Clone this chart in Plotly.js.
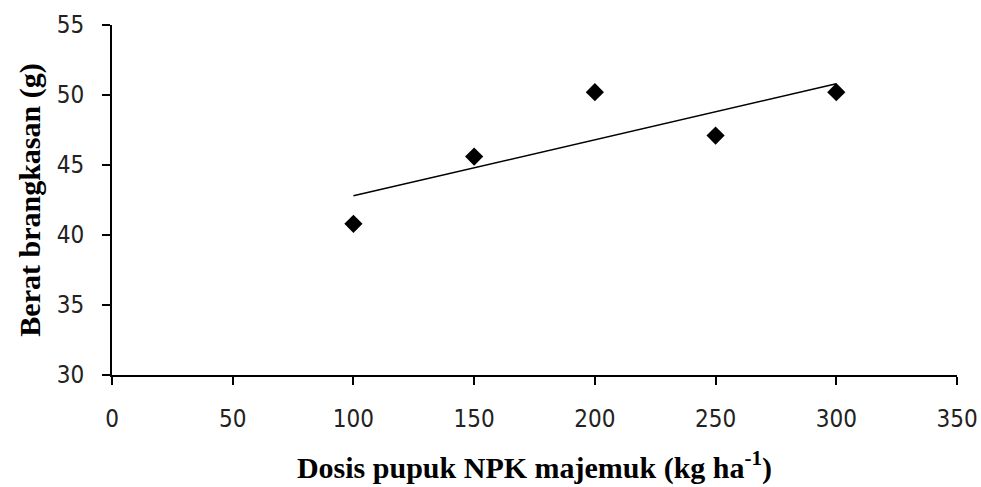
<!DOCTYPE html>
<html>
<head>
<meta charset="utf-8">
<script src="https://cdn.plot.ly/plotly-3.0.1.min.js"></script>
<style>html,body{margin:0;padding:0;background:#fff;}#chart{width:981px;height:487px;}</style>
</head>
<body>
<div id="chart"></div>
<script>
// Data
const dosis = [100, 150, 200, 250, 300];
const berat = [40.8, 45.6, 50.2, 47.1, 50.2];
// Linear trend line endpoints
const trendX = [100, 300];
const trendY = [42.8, 50.8];
const xTicks = [0, 50, 100, 150, 200, 250, 300, 350];
const yTicks = [30, 35, 40, 45, 50, 55];

const tickFont = {family: '"DejaVu Sans Condensed", "DejaVu Sans", sans-serif', size: 24, color: '#222'};
const titleFont = {family: '"Liberation Serif", serif', size: 30, color: '#000', weight: 'bold'};

const traces = [
  {x: trendX, y: trendY, mode: 'lines', type: 'scatter',
   line: {color: '#000', width: 1.5}, hoverinfo: 'skip', showlegend: false},
  {x: dosis, y: berat, mode: 'markers', type: 'scatter',
   marker: {symbol: 'diamond', size: 14, color: '#000'}, showlegend: false}
];

const layout = {
  width: 981, height: 487,
  margin: {l: 112, r: 24, t: 25, b: 112},
  paper_bgcolor: '#fff', plot_bgcolor: '#fff',
  showlegend: false,
  xaxis: {
    range: [0, 350], tickvals: xTicks, ticktext: xTicks.map(String),
    showgrid: false, zeroline: false, showline: true, linecolor: '#000', linewidth: 2,
    ticks: 'outside', ticklen: 8, tickwidth: 2, tickcolor: '#000',
    tickfont: tickFont, ticklabelstandoff: 13,
    title: {text: '<b>Dosis pupuk NPK majemuk (kg ha<sup>-1</sup>)</b>', font: titleFont, standoff: 25}
  },
  yaxis: {
    range: [30, 55], tickvals: yTicks, ticktext: yTicks.map(String),
    showgrid: false, zeroline: false, showline: true, linecolor: '#000', linewidth: 2,
    ticks: 'outside', ticklen: 8, tickwidth: 2, tickcolor: '#000',
    tickfont: tickFont, ticklabelstandoff: 13,
    title: {text: '<b>Berat brangkasan (g)</b>', font: titleFont, standoff: 7}
  }
};

Plotly.newPlot('chart', traces, layout, {displayModeBar: false, staticPlot: true});
</script>
</body>
</html>
